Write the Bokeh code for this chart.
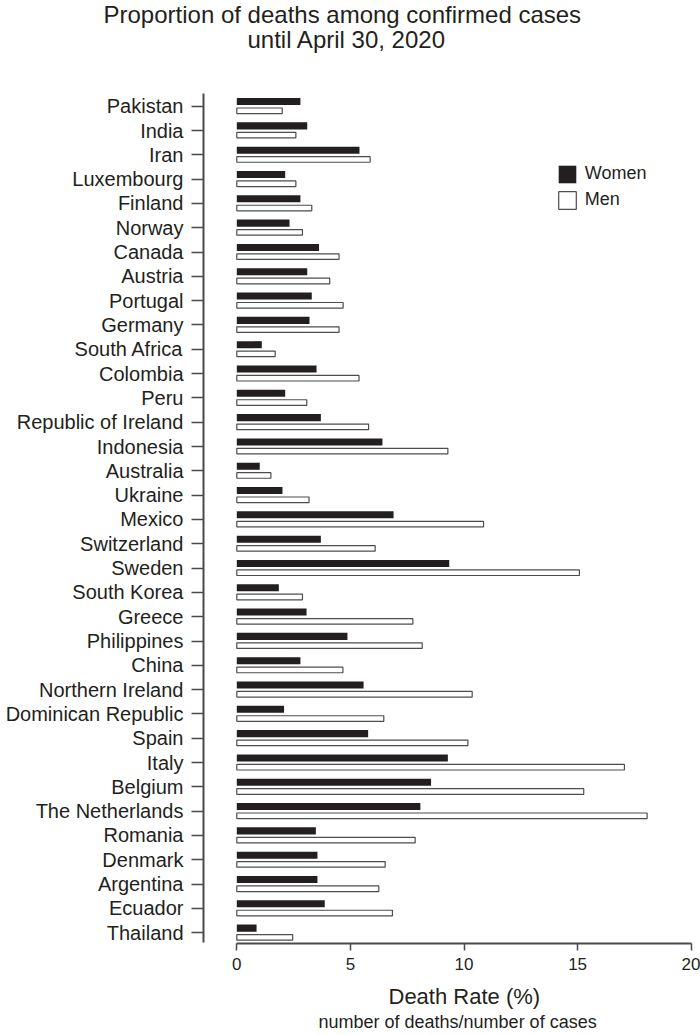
from bokeh.plotting import figure
from bokeh.models import (Range1d, FixedTicker, ColumnDataSource, Legend, LegendItem, Title)
from bokeh.embed import file_html
from bokeh.resources import INLINE

countries = ["Pakistan", "India", "Iran", "Luxembourg", "Finland", "Norway", "Canada",
             "Austria", "Portugal", "Germany", "South Africa", "Colombia", "Peru",
             "Republic of Ireland", "Indonesia", "Australia", "Ukraine", "Mexico",
             "Switzerland", "Sweden", "South Korea", "Greece", "Philippines", "China",
             "Northern Ireland", "Dominican Republic", "Spain", "Italy", "Belgium",
             "The Netherlands", "Romania", "Denmark", "Argentina", "Ecuador", "Thailand"]
women = [2.80, 3.10, 5.40, 2.13, 2.80, 2.32, 3.62, 3.10, 3.30, 3.20, 1.10, 3.51, 2.13,
         3.70, 6.41, 1.01, 2.01, 6.90, 3.70, 9.35, 1.85, 3.07, 4.87, 2.80, 5.58, 2.08,
         5.78, 9.29, 8.55, 8.08, 3.48, 3.55, 3.55, 3.87, 0.87]
men = [2.00, 2.60, 5.87, 2.60, 3.30, 2.89, 4.50, 4.09, 4.68, 4.50, 1.69, 5.38, 3.08,
       5.80, 9.29, 1.50, 3.18, 10.86, 6.09, 15.08, 2.89, 7.75, 8.16, 4.67, 10.36, 6.47,
       10.17, 17.06, 15.27, 18.06, 7.85, 6.53, 6.25, 6.85, 2.46]
x_ticks = [0, 5, 10, 15, 20]

FONT = "Liberation Sans"
TXT = "#231f20"
AX = "#4a4a4a"

pos = list(range(len(countries)))
src = ColumnDataSource(dict(
    y_w=[p_ - 0.19 for p_ in pos], y_m=[p_ + 0.19 for p_ in pos],
    women=women, men=men))

p = figure(width=700, height=1035, output_backend="svg", toolbar_location=None,
           x_range=Range1d(-1.4657, 20.277), y_range=Range1d(34.443, -2.209),
           min_border_left=203, min_border_right=3, min_border_top=52,
           min_border_bottom=92)
p.outline_line_color = None
p.xgrid.visible = False
p.ygrid.visible = False
p.background_fill_color = "white"
p.border_fill_color = "white"

rw = p.hbar(y="y_w", left=0, right="women", height=0.29, source=src,
            fill_color="#231f20", line_color=None)
rm = p.hbar(y="y_m", left=0, right="men", height=0.23, source=src,
            fill_color="white", line_color="#4d4d4d", line_width=1.2)

# y axis
ya = p.yaxis[0]
ya.ticker = FixedTicker(ticks=pos)
ya.major_label_overrides = {i: c for i, c in enumerate(countries)}
ya.bounds = (-0.535, 34.41)
ya.axis_line_color = AX
ya.axis_line_width = 2
ya.major_tick_line_color = AX
ya.major_tick_line_width = 1.5
ya.major_tick_out = 12
ya.major_tick_in = 0
ya.minor_tick_line_color = None
ya.major_label_standoff = 8
ya.major_label_text_font = FONT
ya.major_label_text_font_size = "20px"
ya.major_label_text_color = TXT

# x axis
xa = p.xaxis[0]
xa.ticker = FixedTicker(ticks=x_ticks)
xa.bounds = (0, 20)
xa.axis_line_color = AX
xa.axis_line_width = 2
xa.major_tick_line_color = AX
xa.major_tick_line_width = 1.5
xa.major_tick_out = 7
xa.major_tick_in = 0
xa.minor_tick_line_color = None
xa.major_label_standoff = 7
xa.major_label_text_font = FONT
xa.major_label_text_font_size = "17px"
xa.major_label_text_color = TXT

# titles (closest to frame added first)
p.add_layout(Title(text="until April 30, 2020", align="left", offset=44,
                   text_font=FONT, text_font_size="24px", text_color=TXT,
                   text_font_style="normal", standoff=0), "above")
p.add_layout(Title(text="Proportion of deaths among confirmed cases", align="left",
                   offset=-100, text_font=FONT, text_font_size="24px",
                   text_color=TXT, text_font_style="normal", standoff=-9), "above")

p.add_layout(Title(text="Death Rate (%)", align="left", offset=185,
                   text_font=FONT, text_font_size="22px", text_color=TXT,
                   text_font_style="normal", standoff=19), "below")
p.add_layout(Title(text="number of deaths/number of cases", align="left",
                   offset=115, text_font=FONT, text_font_size="18px",
                   text_color=TXT, text_font_style="normal", standoff=-17), "below")

legend = Legend(items=[LegendItem(label="Women", renderers=[rw]),
                       LegendItem(label="Men", renderers=[rm])],
                location=(352.8, 732.2), glyph_width=22, glyph_height=22,
                spacing=4, padding=0, margin=0, label_standoff=7,
                border_line_color=None, background_fill_alpha=0,
                label_text_font=FONT, label_text_font_size="18px",
                label_text_color=TXT)
p.add_layout(legend)

open("out.html", "w").write(file_html(p, INLINE))
